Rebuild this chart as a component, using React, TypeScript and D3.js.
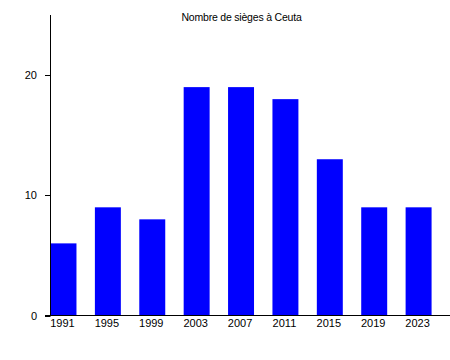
import React from "react";
import * as d3 from "d3";

const years = ["1991", "1995", "1999", "2003", "2007", "2011", "2015", "2019", "2023"];
const seats = [6, 9, 8, 19, 19, 18, 13, 9, 9];
const yTicks = [0, 10, 20];
const title = "Nombre de sièges à Ceuta";

export default function App() {
  const W = 450, H = 360;
  const left = 50.5, right = 450, top = 15, bottom = 315.5;
  const x = d3.scaleBand<string>().domain(years).range([left, right]).paddingInner(0.415).paddingOuter(0.2075).align(0);
  const y = d3.scaleLinear().domain([0, 25]).range([bottom, top]);
  const font = "'Liberation Sans', Arial, sans-serif";
  return (
    <svg width={W} height={H} style={{ position: "absolute", left: 0, top: 0, background: "#fff" }}>
      <text x={241.5} y={21} textAnchor="middle" fontFamily={font} fontSize={10.5} letterSpacing={-0.2} fill="#000">{title}</text>
      {years.map((yr, i) => (
        <rect key={yr} x={x(yr)} y={y(seats[i])} width={x.bandwidth()} height={y(0) - y(seats[i])} fill="#0000ff" />
      ))}
      <line x1={left} x2={left} y1={top} y2={bottom} stroke="#000" strokeWidth={1} />
      <line x1={45} x2={right} y1={bottom} y2={bottom} stroke="#000" strokeWidth={1} />
      {yTicks.map(t => (
        <g key={t}>
          <line x1={45} x2={left} y1={Math.round(y(t)) + 0.5} y2={Math.round(y(t)) + 0.5} stroke="#000" />
          <text x={37} y={y(t) + 4} textAnchor="end" fontFamily={font} fontSize={11} fill="#000">{t}</text>
        </g>
      ))}
      {years.map(yr => (
        <text key={yr} x={(x(yr) as number) + x.bandwidth() / 2 - 1} y={327} textAnchor="middle" fontFamily={font} fontSize={11} fill="#000">{yr}</text>
      ))}
    </svg>
  );
}
